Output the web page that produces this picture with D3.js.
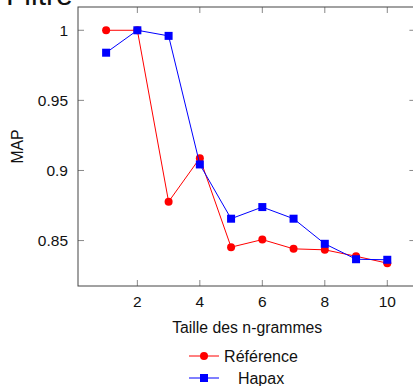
<!DOCTYPE html>
<html>
<head>
<meta charset="utf-8">
<script src="https://cdn.jsdelivr.net/npm/d3@7"></script>
<style>
  body { margin: 0; background: #fff; }
  text { font-family: "Liberation Sans", Arial, sans-serif; fill: #111; }
</style>
</head>
<body>
<div id="mainDiv"></div>
<script>
var nValues = [1, 2, 3, 4, 5, 6, 7, 8, 9, 10];
var referenceMap = [1.0, 1.0, 0.8777, 0.9088, 0.8453, 0.8507, 0.8441, 0.8434, 0.8388, 0.8339];
var hapaxMap = [0.984, 1.0, 0.996, 0.9043, 0.8656, 0.8739, 0.8656, 0.8477, 0.8367, 0.8363];
var xTicks = [2, 4, 6, 8, 10];
var yTicks = [0.85, 0.9, 0.95, 1];
var yTickLabels = ["0.85", "0.9", "0.95", "1"];

var width = 413, height = 386;
var plotLeft = 78, plotRight = 415.4, plotTop = 7, plotBottom = 286;

var mySvg = d3.select("#mainDiv").append("svg")
              .attr("width", width)
              .attr("height", height);

var x = d3.scaleLinear().domain([0.1, 10.9]).range([plotLeft, plotRight]);
var y = d3.scaleLinear().domain([0.8176, 1.0166]).range([plotBottom, plotTop]);

// title, cut off at the top
mySvg.append("text")
     .text("Filtre")
     .attr("x", 6)
     .attr("y", 4.5)
     .attr("font-size", 30);

// ticks on the four sides, pointing in
var tickLen = 6;
xTicks.forEach(function (t) {
    mySvg.append("line").attr("x1", x(t)).attr("x2", x(t))
         .attr("y1", plotBottom).attr("y2", plotBottom - tickLen)
         .attr("stroke", "#888").attr("stroke-width", 1);
    mySvg.append("line").attr("x1", x(t)).attr("x2", x(t))
         .attr("y1", plotTop).attr("y2", plotTop + tickLen)
         .attr("stroke", "#888").attr("stroke-width", 1);
});
yTicks.forEach(function (t) {
    mySvg.append("line").attr("x1", plotLeft).attr("x2", plotLeft + tickLen)
         .attr("y1", y(t)).attr("y2", y(t))
         .attr("stroke", "#888").attr("stroke-width", 1);
    mySvg.append("line").attr("x1", plotRight).attr("x2", plotRight - tickLen)
         .attr("y1", y(t)).attr("y2", y(t))
         .attr("stroke", "#888").attr("stroke-width", 1);
});

// frame
mySvg.append("rect")
     .attr("x", plotLeft).attr("y", plotTop)
     .attr("width", plotRight - plotLeft).attr("height", plotBottom - plotTop)
     .attr("fill", "none")
     .attr("stroke", "#444")
     .attr("stroke-width", 1);

// tick labels
mySvg.selectAll(".xlab").data(xTicks).enter().append("text")
     .attr("class", "xlab")
     .attr("x", function (d) { return x(d); })
     .attr("y", 307)
     .attr("text-anchor", "middle")
     .attr("font-size", 15.5)
     .text(function (d) { return d; });

mySvg.selectAll(".ylab").data(yTicks).enter().append("text")
     .attr("class", "ylab")
     .attr("x", 68)
     .attr("y", function (d) { return y(d) + 5.5; })
     .attr("text-anchor", "end")
     .attr("font-size", 15.5)
     .text(function (d, i) { return yTickLabels[i]; });

// axis titles
mySvg.append("text")
     .text("Taille des n-grammes")
     .attr("x", (plotLeft + plotRight) / 2 + 0.5)
     .attr("y", 333)
     .attr("text-anchor", "middle")
     .attr("font-size", 15.8);

mySvg.append("text")
     .text("MAP")
     .attr("transform", "translate(23," + ((plotTop + plotBottom) / 2) + ") rotate(-90)")
     .attr("text-anchor", "middle")
     .attr("font-size", 15.8);

// series
var line = d3.line()
             .x(function (d, i) { return x(nValues[i]); })
             .y(function (d) { return y(d); });

mySvg.append("path").datum(referenceMap)
     .attr("d", line).attr("fill", "none")
     .attr("stroke", "#ff0000").attr("stroke-width", 1);
mySvg.selectAll(".refpt").data(referenceMap).enter().append("circle")
     .attr("class", "refpt")
     .attr("cx", function (d, i) { return x(nValues[i]); })
     .attr("cy", function (d) { return y(d); })
     .attr("r", 4)
     .attr("fill", "#ff0000");

mySvg.append("path").datum(hapaxMap)
     .attr("d", line).attr("fill", "none")
     .attr("stroke", "#0000ff").attr("stroke-width", 1);
mySvg.selectAll(".hapt").data(hapaxMap).enter().append("rect")
     .attr("class", "hapt")
     .attr("x", function (d, i) { return x(nValues[i]) - 4; })
     .attr("y", function (d) { return y(d) - 4; })
     .attr("width", 8).attr("height", 8)
     .attr("fill", "#0000ff");

// legend
var legend = [
    { name: "Référence", color: "#ff0000", shape: "circle", y: 356 },
    { name: "Hapax", color: "#0000ff", shape: "square", y: 378 }
];
legend.forEach(function (e) {
    mySvg.append("line")
         .attr("x1", 189).attr("x2", 219)
         .attr("y1", e.y).attr("y2", e.y)
         .attr("stroke", e.color).attr("stroke-width", 1);
    if (e.shape == "circle") {
        mySvg.append("circle").attr("cx", 204).attr("cy", e.y)
             .attr("r", 4).attr("fill", e.color);
    } else {
        mySvg.append("rect").attr("x", 200).attr("y", e.y - 4)
             .attr("width", 8).attr("height", 8).attr("fill", e.color);
    }
    mySvg.append("text")
         .text(e.name)
         .attr("x", 261)
         .attr("y", e.y + 5.5)
         .attr("text-anchor", "middle")
         .attr("font-size", 16);
});
</script>
</body>
</html>
